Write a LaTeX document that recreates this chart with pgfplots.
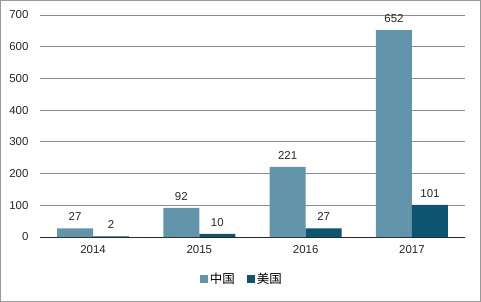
\documentclass[border=0pt]{standalone}
\usepackage{pgfplots}
\pgfplotsset{compat=1.18}
\usepackage{fontspec}
\setmainfont{Liberation Sans}
\newfontfamily\cjk{Noto Sans CJK SC}
\definecolor{cn}{HTML}{6294AC}
\definecolor{us}{HTML}{0C5470}
\definecolor{gridc}{HTML}{8C8C8C}
\begin{document}
\begin{tikzpicture}[x=1bp,y=1bp]
\draw[gray!80, line width=0.8bp] (0.5,0.5) rectangle (480.5,301.5);
\begin{axis}[
  at={(40bp,65bp)}, anchor=south west,
  scale only axis, width=425bp, height=222bp,
  ymin=0, ymax=700, ytick={0,100,...,700},
  xmin=-0.5, xmax=3.5, xtick=data,
  xticklabels={2014,2015,2016,2017},
  ybar=0pt, bar width=36bp,
  axis x line*=bottom, axis y line*=left,
  x axis line style={black!85, line width=0.8bp, -},
  y axis line style={draw=none},
  ymajorgrids, grid style={gridc, line width=0.7bp},
  major tick length=0pt,
  tick label style={font=\fontsize{11.5}{13}\selectfont, text=black!85},
  /pgf/number format/assume math mode=true,
  yticklabel style={xshift=-8bp},
  xticklabel style={yshift=-5bp},
  nodes near coords,
  every node near coord/.append style={font=\fontsize{11.5}{13}\selectfont, text=black!85, yshift=4bp},
  legend style={at={(0.475,-0.19)}, anchor=center, draw=none, fill=none,
    legend columns=2, font=\fontsize{12.5}{14}\selectfont\cjk,
    /tikz/every even column/.append style={column sep=10bp}},
  legend image code/.code={\fill[#1] (0bp,-4bp) rectangle (8bp,4bp);},
  clip=false,
]
\addplot[fill=cn, draw=none] coordinates {(0,27) (1,92) (2,221) (3,652)};
\addplot[fill=us, draw=none] coordinates {(0,2) (1,10) (2,27) (3,101)};
\legend{中国,美国}
\end{axis}
\end{tikzpicture}
\end{document}
